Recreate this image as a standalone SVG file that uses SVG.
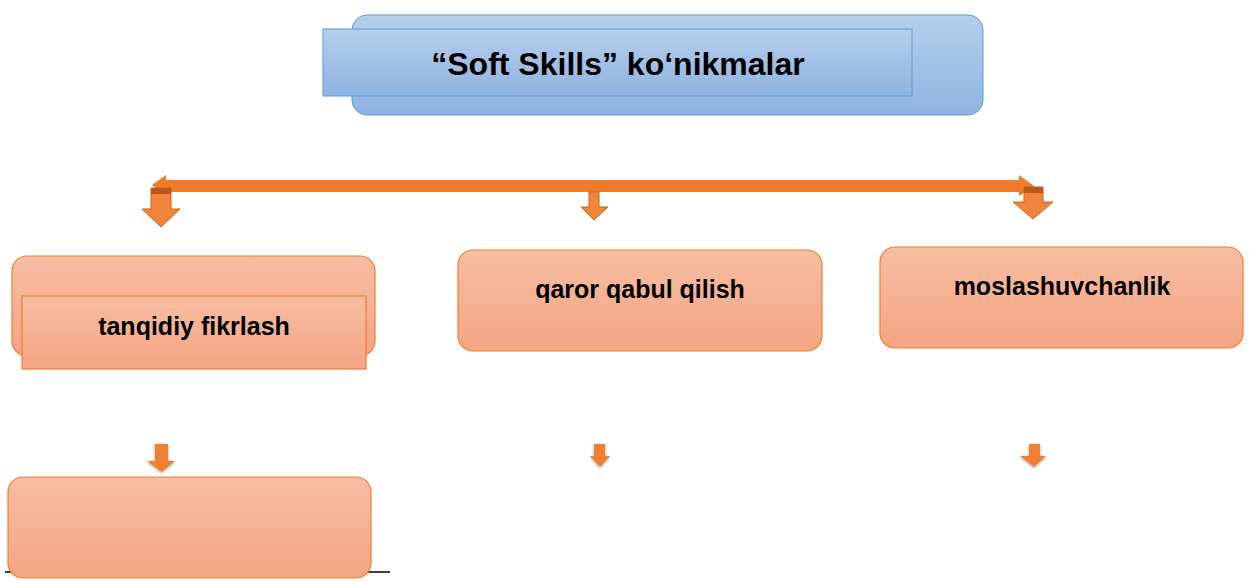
<svg xmlns="http://www.w3.org/2000/svg" width="1249" height="582" viewBox="0 0 1249 582">
<defs>
<linearGradient id="gBlue" x1="0" y1="0" x2="0" y2="1"><stop offset="0" stop-color="#b5cfec"/><stop offset="1" stop-color="#8fb3e2"/></linearGradient>
<linearGradient id="gOr" x1="0" y1="0" x2="0" y2="1"><stop offset="0" stop-color="#f7bea3"/><stop offset="1" stop-color="#f4a482"/></linearGradient>
<filter id="sh" x="-50%" y="-50%" width="200%" height="200%"><feGaussianBlur in="SourceAlpha" stdDeviation="1.5"/><feOffset dx="0" dy="1"/><feComponentTransfer><feFuncA type="linear" slope="0.4"/></feComponentTransfer><feMerge><feMergeNode/><feMergeNode in="SourceGraphic"/></feMerge></filter>
</defs>
<style>
.blue{fill:url(#gBlue);stroke:#5b9bd5;stroke-width:1}
.box{fill:url(#gOr);stroke:#ed7d31;stroke-width:1.2}
.t{font-family:"Liberation Sans",Arial,sans-serif;font-weight:bold;fill:#000;text-anchor:middle}
.arr{fill:#f0843a;stroke:#c9651e;stroke-width:1}
.sarr{fill:#f07f33;stroke:none}
.bar{fill:#f07b28}
.band{fill:#b8581e}
</style>
<rect width="1249" height="582" fill="#ffffff"/>
<line x1="5" y1="572" x2="390" y2="572" stroke="#000" stroke-width="1.6"/>
<g id="title">
<rect class="blue" x="352" y="15" width="631" height="100" rx="15"/>
<rect class="blue" x="323" y="29" width="589" height="67"/>
<text class="t" x="618" y="75" font-size="32">“Soft Skills” ko‘nikmalar</text>
</g>
<g id="connectors">
<path class="bar" d="M152,185 L166,175 L166,180 L1019,180 L1019,175 L1034,186 L1019,196 L1019,192 L166,192 L166,195 Z"/>
<path class="arr" d="M151,188 L171,188 L171,209 L180,209 L161,227 L142,209 L151,209 Z"/>
<rect class="band" x="151" y="188" width="20" height="6"/>
<path class="arr" d="M589,192 L599,192 L599,207 L608,207 L594,220 L581,207 L589,207 Z"/>
<path class="arr" d="M1024,187 L1043,187 L1043,202 L1053,202 L1033,219 L1013,202 L1024,202 Z"/>
<rect class="band" x="1024" y="187" width="19" height="6"/>
<g filter="url(#sh)">
<path class="sarr" d="M155,444 L168,444 L168,461 L175,461 L161.5,472 L147,461 L155,461 Z"/>
<path class="sarr" d="M594,444 L605,444 L605,456 L610,456 L600,467 L590,456 L594,456 Z"/>
<path class="sarr" d="M1029,444 L1040,444 L1040,456 L1046,456 L1034,467 L1020,456 L1029,456 Z"/>
</g>
</g>
<g id="node-tanqidiy">
<rect class="box" x="12" y="256" width="363" height="100" rx="15"/>
<rect class="box" x="22" y="296" width="344" height="73"/>
<text class="t" x="194" y="335" font-size="25">tanqidiy fikrlash</text>
</g>
<g id="node-qaror">
<rect class="box" x="458" y="250" width="364" height="101" rx="15"/>
<text class="t" x="640" y="298" font-size="25">qaror qabul qilish</text>
</g>
<g id="node-moslashuvchanlik">
<rect class="box" x="880" y="247" width="363" height="101" rx="15"/>
<text class="t" x="1062" y="295" font-size="25">moslashuvchanlik</text>
</g>
<g id="node-empty">
<rect class="box" x="8" y="477" width="363" height="101" rx="15"/>
</g>
</svg>
